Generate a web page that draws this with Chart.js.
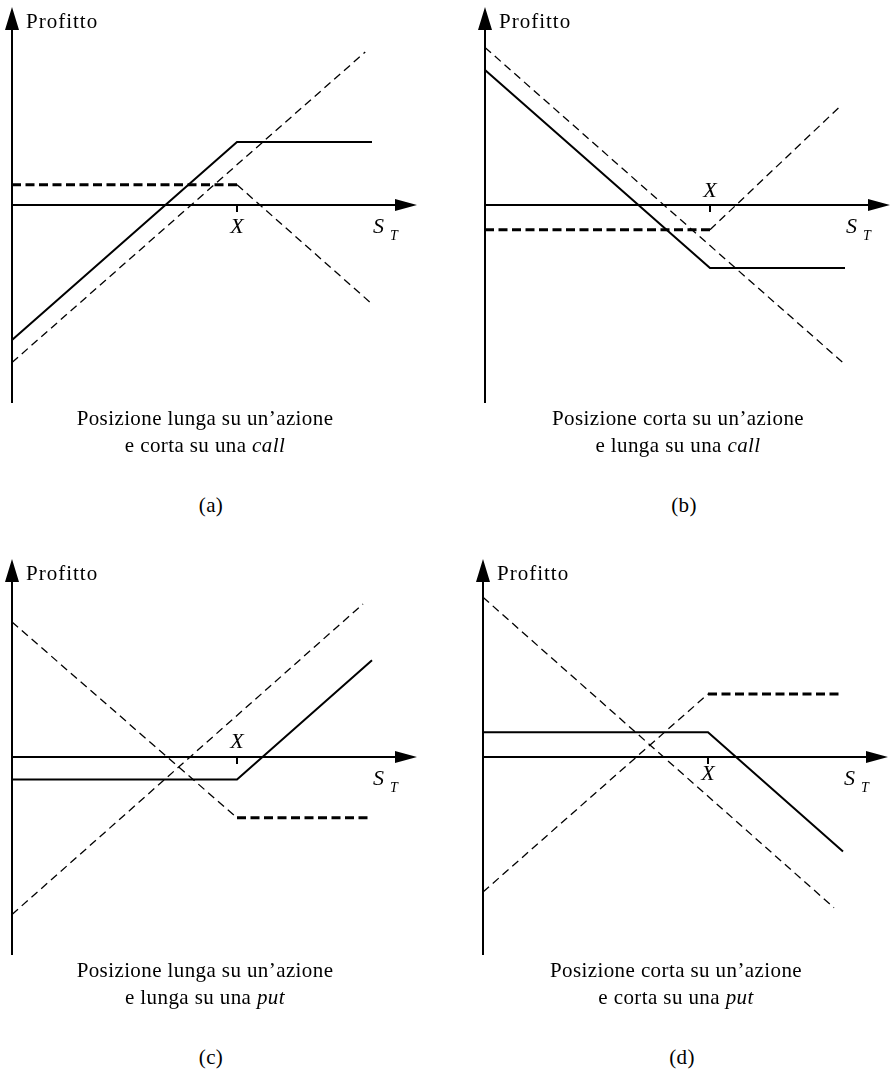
<!DOCTYPE html>
<html>
<head>
<meta charset="utf-8">
<script src="https://cdn.jsdelivr.net/npm/chart.js@4.4.0/dist/chart.umd.min.js"></script>
<style>
  body { margin: 0; background: #fff; }
  #page {
    position: relative;
    width: 890px;
    height: 1070px;
    overflow: hidden;
    font-family: "Liberation Serif", serif;
    color: #000;
  }
  .panel { position: absolute; }
  .caption {
    position: absolute;
    width: 340px;
    text-align: center;
    font-size: 21px;
    line-height: 24px;
    letter-spacing: 0.4px;
    white-space: nowrap;
  }
</style>
</head>
<body>
<div id="page"></div>

<script>
// S_T on x (strike X = 100), profit on y
const strike = 100;

// (a) long stock + short call
const stockA = [[0, -70], [157, 68]];
const callA  = [[0, 9], [100, 9], [160, -44]];
const totalA = [[0, -60], [100, 28], [160, 28]];

// (b) short stock + long call
const stockB = [[0, 70], [159, -70]];
const callB  = [[0, -11], [100, -11], [158, 44]];
const totalB = [[0, 60], [100, -28], [160, -28]];

// (c) long stock + long put
const stockC = [[0, -70], [156, 68]];
const putC   = [[0, 60], [100, -27], [160, -27]];
const totalC = [[0, -10], [100, -10], [160, 43]];

// (d) short stock + short put
const stockD = [[0, 71], [156, -67]];
const putD   = [[0, -60], [100, 28], [160, 28]];
const totalD = [[0, 11], [100, 11], [160, -42]];

const captionLine1 = ['Posizione lunga su un\u2019azione', 'Posizione corta su un\u2019azione',
                      'Posizione lunga su un\u2019azione', 'Posizione corta su un\u2019azione'];
const captionLine2 = ['e corta su una ', 'e lunga su una ', 'e lunga su una ', 'e corta su una '];
const captionOption = ['call', 'call', 'put', 'put'];
const panelLetters = ['(a)', '(b)', '(c)', '(d)'];

// layout: where each panel sits, and how far the X label is from the axis
const panels = [
  { left: 0,   top: 0,   stock: stockA, option: callA, total: totalA, xLabelDy: 28 },
  { left: 473, top: 0,   stock: stockB, option: callB, total: totalB, xLabelDy: -8 },
  { left: 0,   top: 552, stock: stockC, option: putC,  total: totalC, xLabelDy: -9 },
  { left: 471, top: 552, stock: stockD, option: putD,  total: totalD, xLabelDy: 23 }
];

const PX = 2.25;          // pixels per unit
const W = 420, H = 410;   // canvas size
const ORIGIN_X = 12;      // y axis position inside canvas
const ORIGIN_Y = 205;     // x axis position inside canvas
const axisYMax = 88;
const axisXMax = 180;

const toPts = arr => arr.map(p => ({ x: p[0], y: p[1] }));
const isFlat = c => c.p0.parsed.y === c.p1.parsed.y;

const axesPlugin = {
  id: 'payoffAxes',
  beforeDatasetsDraw(chart) {
    const { ctx, scales: { x, y } } = chart;
    const x0 = x.getPixelForValue(0), y0 = y.getPixelForValue(0);
    const yTop = y.getPixelForValue(axisYMax), yBot = y.getPixelForValue(-axisYMax);
    const xEnd = x.getPixelForValue(axisXMax);
    const xs = x.getPixelForValue(strike);
    ctx.save();
    ctx.strokeStyle = '#000';
    ctx.fillStyle = '#000';
    ctx.lineWidth = 2;
    ctx.beginPath();
    ctx.moveTo(x0, yBot); ctx.lineTo(x0, yTop + 20);
    ctx.moveTo(x0, y0);   ctx.lineTo(xEnd - 20, y0);
    ctx.moveTo(xs, y0);   ctx.lineTo(xs, y0 + 7);
    ctx.stroke();
    ctx.beginPath();
    ctx.moveTo(x0, yTop); ctx.lineTo(x0 - 7, yTop + 23); ctx.lineTo(x0 + 7, yTop + 23); ctx.closePath();
    ctx.moveTo(xEnd, y0); ctx.lineTo(xEnd - 22, y0 - 6); ctx.lineTo(xEnd - 22, y0 + 6); ctx.closePath();
    ctx.fill();
    ctx.restore();
  },
  afterDatasetsDraw(chart, args, opts) {
    const { ctx, scales: { x, y } } = chart;
    const x0 = x.getPixelForValue(0), y0 = y.getPixelForValue(0);
    const yTop = y.getPixelForValue(axisYMax);
    const xs = x.getPixelForValue(strike);
    ctx.save();
    ctx.fillStyle = '#000';
    ctx.textBaseline = 'alphabetic';
    ctx.font = '21px "Liberation Serif"';
    ctx.letterSpacing = '1px';
    ctx.fillText('Profitto', x0 + 14, yTop + 21);
    ctx.letterSpacing = '0px';
    ctx.font = 'italic 22px "Liberation Serif"';
    ctx.textAlign = 'center';
    ctx.fillText('X', xs, y0 + opts.xLabelDy);
    ctx.textAlign = 'left';
    ctx.fillText('S', x0 + 361, y0 + 28);
    ctx.font = 'italic 14px "Liberation Serif"';
    ctx.fillText('T', x0 + 378, y0 + 35);
    ctx.restore();
  }
};

const page = document.getElementById('page');

panels.forEach((p, i) => {
  const canvas = document.createElement('canvas');
  canvas.className = 'panel';
  canvas.width = W;
  canvas.height = H;
  canvas.style.left = p.left + 'px';
  canvas.style.top = p.top + 'px';
  page.appendChild(canvas);

  new Chart(canvas.getContext('2d'), {
    type: 'line',
    data: {
      datasets: [
        {
          data: toPts(p.total),
          borderColor: '#000',
          borderWidth: 2,
          clip: false
        },
        {
          data: toPts(p.option),
          borderColor: '#000',
          borderWidth: 1.3,
          borderDash: [8, 5],
          clip: false,
          segment: {
            borderWidth: c => isFlat(c) ? 3 : 1.3,
            borderDash: c => isFlat(c) ? [9, 4.5] : [8, 5]
          }
        },
        {
          data: toPts(p.stock),
          borderColor: '#000',
          borderWidth: 1.3,
          borderDash: [8, 5],
          clip: false
        }
      ]
    },
    options: {
      responsive: false,
      animation: false,
      events: [],
      layout: { padding: 0 },
      elements: { point: { radius: 0 }, line: { tension: 0 } },
      scales: {
        x: { type: 'linear', display: false, min: -ORIGIN_X / PX, max: (W - ORIGIN_X) / PX },
        y: { type: 'linear', display: false, min: -(H - ORIGIN_Y) / PX, max: ORIGIN_Y / PX }
      },
      plugins: {
        legend: { display: false },
        tooltip: { enabled: false },
        payoffAxes: { xLabelDy: p.xLabelDy }
      }
    },
    plugins: [axesPlugin]
  });

  // captions under each panel
  const cx = p.left + ORIGIN_X + 193;
  const axisBottom = p.top + ORIGIN_Y + axisYMax * PX;
  const lines = [
    { html: captionLine1[i], base: axisBottom + 22 },
    { html: captionLine2[i] + '<i>' + captionOption[i] + '</i>', base: axisBottom + 49 },
    { html: panelLetters[i], base: axisBottom + 109, dx: 6 }
  ];
  lines.forEach(l => {
    const d = document.createElement('div');
    d.className = 'caption';
    d.innerHTML = l.html;
    d.style.left = (cx + (l.dx || 0) - 170) + 'px';
    d.style.top = (l.base - 19) + 'px';
    page.appendChild(d);
  });
});
</script>
</body>
</html>
